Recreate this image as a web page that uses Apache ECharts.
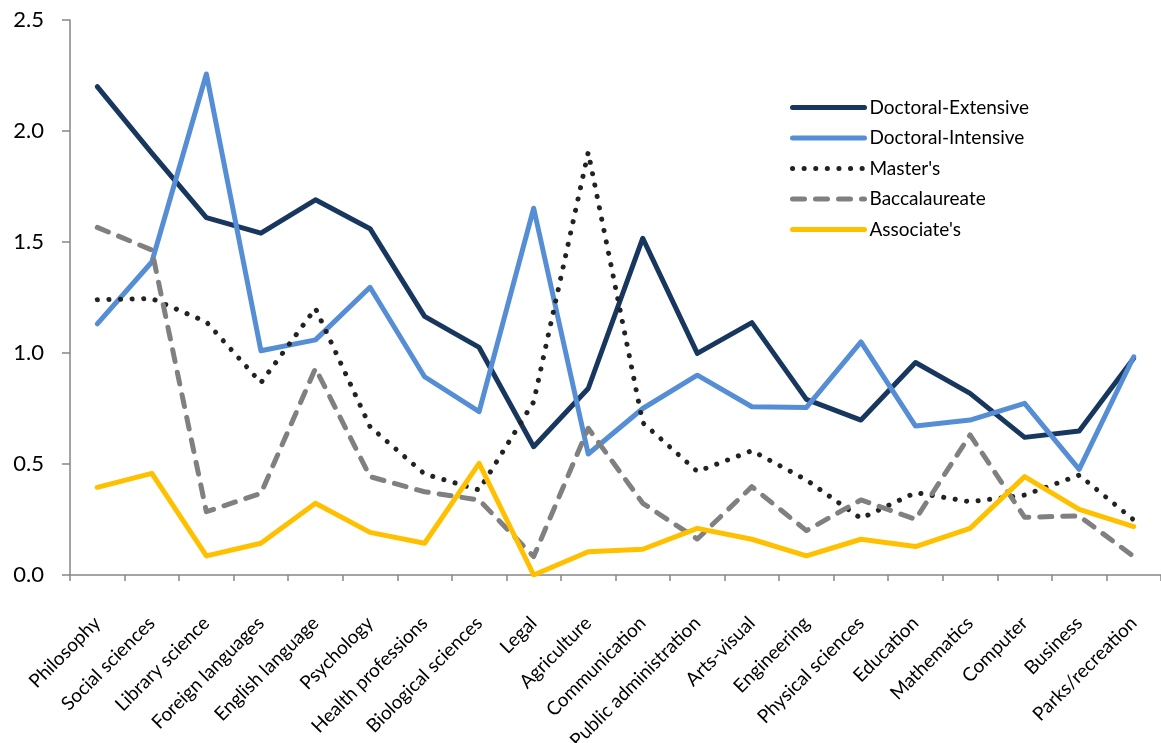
<!DOCTYPE html>
<html>
<head>
<meta charset="utf-8">
<script src="https://cdn.jsdelivr.net/npm/echarts@6/dist/echarts.min.js"></script>
<style>
  html, body { margin: 0; padding: 0; background: #fff; }
  #chart { width: 1161px; height: 743px; }
</style>
</head>
<body>
<div id="chart"></div>
<script>
// Fields of study, in display order
const categories = [
  'Philosophy', 'Social sciences', 'Library science', 'Foreign languages',
  'English language', 'Psychology', 'Health professions', 'Biological sciences',
  'Legal', 'Agriculture', 'Communication', 'Public administration',
  'Arts-visual', 'Engineering', 'Physical sciences', 'Education',
  'Mathematics', 'Computer', 'Business', 'Parks/recreation'
];

// Values by institution type
const doctoralExtensive = [2.20, 1.90, 1.61, 1.54, 1.69, 1.56, 1.165, 1.025, 0.578, 0.84,
                           1.517, 0.998, 1.137, 0.791, 0.698, 0.957, 0.818, 0.62, 0.649, 0.976];
const doctoralIntensive = [1.131, 1.41, 2.257, 1.01, 1.059, 1.296, 0.893, 0.736, 1.652, 0.545,
                           0.75, 0.90, 0.758, 0.755, 1.05, 0.671, 0.698, 0.773, 0.476, 0.983];
const masters = [1.24, 1.245, 1.14, 0.866, 1.201, 0.668, 0.455, 0.383, 0.78, 1.904,
                 0.686, 0.466, 0.56, 0.428, 0.255, 0.371, 0.33, 0.36, 0.45, 0.248];
const baccalaureate = [1.566, 1.464, 0.285, 0.368, 0.931, 0.443, 0.375, 0.338, 0.083, 0.661,
                       0.323, 0.162, 0.398, 0.20, 0.338, 0.251, 0.631, 0.26, 0.266, 0.083];
const associates = [0.395, 0.458, 0.086, 0.143, 0.323, 0.192, 0.143, 0.503, 0.0, 0.105,
                    0.116, 0.21, 0.161, 0.086, 0.161, 0.128, 0.21, 0.443, 0.296, 0.218];

const seriesNames = ['Doctoral-Extensive', 'Doctoral-Intensive', "Master's", 'Baccalaureate', "Associate's"];

const yTicks = { min: 0, max: 2.5, interval: 0.5 };

const FONT = 'Lato, "Open Sans", sans-serif';
const AXIS_GRAY = '#868686';
const LINE_W = 5;

function lineSeries(name, data, color, type) {
  return {
    name: name,
    type: 'line',
    data: data,
    symbol: 'none',
    smooth: false,
    z: 2,
    lineStyle: { color: color, width: LINE_W, type: type, cap: 'round', join: 'round' },
    itemStyle: { color: color }
  };
}

const chart = echarts.init(document.getElementById('chart'), null, { renderer: 'canvas' });

chart.setOption({
  animation: false,
  backgroundColor: '#fff',
  grid: { left: 70, right: 0, top: 20, bottom: 168, containLabel: false, outerBoundsMode: 'none' },
  legend: {
    orient: 'vertical',
    left: 785,
    top: 93,
    itemWidth: 72,
    itemHeight: 14,
    itemGap: 11.5,
    data: seriesNames,
    itemStyle: { opacity: 0 },
    lineStyle: { width: LINE_W },
    textStyle: { fontFamily: FONT, fontSize: 19, color: '#000' }
  },
  xAxis: {
    type: 'category',
    data: categories,
    boundaryGap: true,
    axisLine: { show: true, lineStyle: { color: AXIS_GRAY, width: 1.5 } },
    axisTick: { show: true, length: 6, alignWithLabel: false, lineStyle: { color: AXIS_GRAY, width: 1.5 } },
    splitLine: { show: false },
    axisLabel: {
      interval: 0,
      rotate: 45,
      margin: 45,
      fontFamily: FONT,
      fontSize: 19,
      color: '#000'
    }
  },
  yAxis: {
    type: 'value',
    min: yTicks.min,
    max: yTicks.max,
    interval: yTicks.interval,
    axisLine: { show: true, lineStyle: { color: AXIS_GRAY, width: 1.5 } },
    axisTick: { show: true, length: 8, inside: false, lineStyle: { color: AXIS_GRAY, width: 1.5 } },
    splitLine: { show: false },
    axisLabel: {
      margin: 26,
      fontFamily: FONT,
      fontSize: 22,
      color: '#000',
      formatter: v => v.toFixed(1)
    }
  },
  series: [
    lineSeries(seriesNames[0], doctoralExtensive, '#17375E', 'solid'),
    lineSeries(seriesNames[1], doctoralIntensive, '#558ED5', 'solid'),
    lineSeries(seriesNames[2], masters, '#222222', [0.1, 11.5]),
    lineSeries(seriesNames[3], baccalaureate, '#808080', [12, 11]),
    lineSeries(seriesNames[4], associates, '#FFC000', 'solid')
  ]
});
</script>
</body>
</html>
